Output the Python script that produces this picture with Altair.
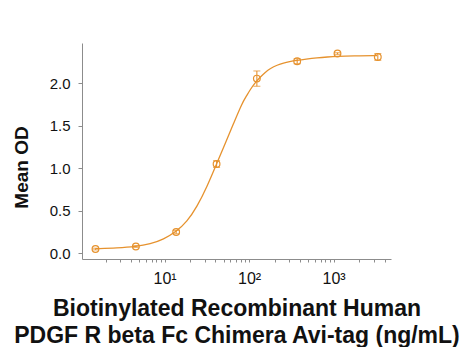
import altair as alt
import pandas as pd

# measured points (ng/mL, mean OD, error)
conc = [1.52, 4.57, 13.7, 41.2, 123.5, 370.4, 1111, 3333]
od = [0.05, 0.08, 0.25, 1.05, 2.055, 2.26, 2.35, 2.31]
err = [0.01, 0.01, 0.02, 0.04, 0.09, 0.03, 0.01, 0.04]

# fitted curve
curve_x = [1.54, 2.74, 4.59, 6.77, 9.73, 13.7, 18.4, 24.2, 31.8, 41.2, 52.2, 65.6,
           82.4, 93, 103, 115, 136, 155, 178, 215, 256, 300, 365, 470, 637, 850,
           1096, 1700, 3266]
curve_y = [0.054, 0.062, 0.078, 0.109, 0.164, 0.254, 0.372, 0.548, 0.784, 1.051,
           1.294, 1.529, 1.764, 1.85, 1.925, 1.995, 2.075, 2.13, 2.175, 2.215, 2.24,
           2.255, 2.27, 2.285, 2.30, 2.31, 2.317, 2.322, 2.325]

x_tick_values = [2, 3, 4, 5, 6, 7, 8, 9, 10, 20, 30, 40, 50, 60, 70, 80, 90,
                 100, 200, 300, 400, 500, 600, 700, 800, 900, 1000, 2000, 3000, 4000]
y_tick_values = [0.0, 0.5, 1.0, 1.5, 2.0]
x_title = ["Biotinylated Recombinant Human", "PDGF R beta Fc Chimera Avi-tag (ng/mL)"]
y_title = "Mean OD"

pts = pd.DataFrame({
    "conc": conc,
    "od": od,
    "lo": [o - e for o, e in zip(od, err)],
    "hi": [o + e for o, e in zip(od, err)],
})
curve = pd.DataFrame({"conc": curve_x, "od": curve_y})

COLOR = "#E6922E"
AX = "#8c8c8c"
FONT = "Liberation Sans"

xscale = alt.Scale(type="log", domain=[1.053, 4775], nice=False)
yscale = alt.Scale(domain=[-0.067, 2.474], nice=False, zero=False)

x_axis = alt.Axis(
    values=x_tick_values,
    labelExpr="datum.value == 10 ? '10\u00b9' : datum.value == 100 ? '10\u00b2' : datum.value == 1000 ? '10\u00b3' : ''",
    tickSize=3, labelPadding=8, labelFontSize=16, labelFont=FONT, labelColor="#111",
    labelOverlap=False, labelFlush=False,
    title=x_title, titleFont=FONT, titleFontSize=23, titleFontWeight="bold",
    titleLineHeight=27, titleY=38, titleColor="#111",
    grid=False, domainColor=AX, tickColor=AX,
)
y_axis = alt.Axis(
    values=y_tick_values, format=".1f",
    tickSize=4, labelPadding=8, labelFontSize=15, labelFont=FONT, labelColor="#111",
    title=y_title, titleFont=FONT, titleFontSize=19, titleFontWeight="bold",
    titleX=-51, titleY=124, titleColor="#111",
    grid=False, domainColor=AX, tickColor=AX,
)

X = alt.X("conc:Q", scale=xscale, axis=x_axis, title=x_title)
Y = lambda f: alt.Y(f, type="quantitative", scale=yscale, axis=y_axis, title=y_title)

line = alt.Chart(curve).mark_line(color=COLOR, strokeWidth=1.3, interpolate="basis").encode(
    x=X, y=Y("od"),
)
bars = alt.Chart(pts).mark_rule(color=COLOR, strokeWidth=1.1).encode(
    x=X, y=Y("lo"), y2="hi:Q",
)
caps_lo = alt.Chart(pts).mark_tick(color=COLOR, orient="horizontal", size=7, thickness=1.1).encode(
    x=X, y=Y("lo"),
)
caps_hi = alt.Chart(pts).mark_tick(color=COLOR, orient="horizontal", size=7, thickness=1.1).encode(
    x=X, y=Y("hi"),
)
points = alt.Chart(pts).mark_point(color=COLOR, filled=False, size=45, strokeWidth=1.2, opacity=1).encode(
    x=X, y=Y("od"),
)

chart = alt.layer(line, bars, caps_lo, caps_hi, points).properties(
    width=309, height=216,
    autosize=alt.AutoSizeParams(type="none"),
    padding={"left": 74, "top": 35, "right": 75, "bottom": 88},
    background="white",
).configure_view(stroke=None)

chart.save("out.html", embed_options={"renderer": "svg", "actions": False})
